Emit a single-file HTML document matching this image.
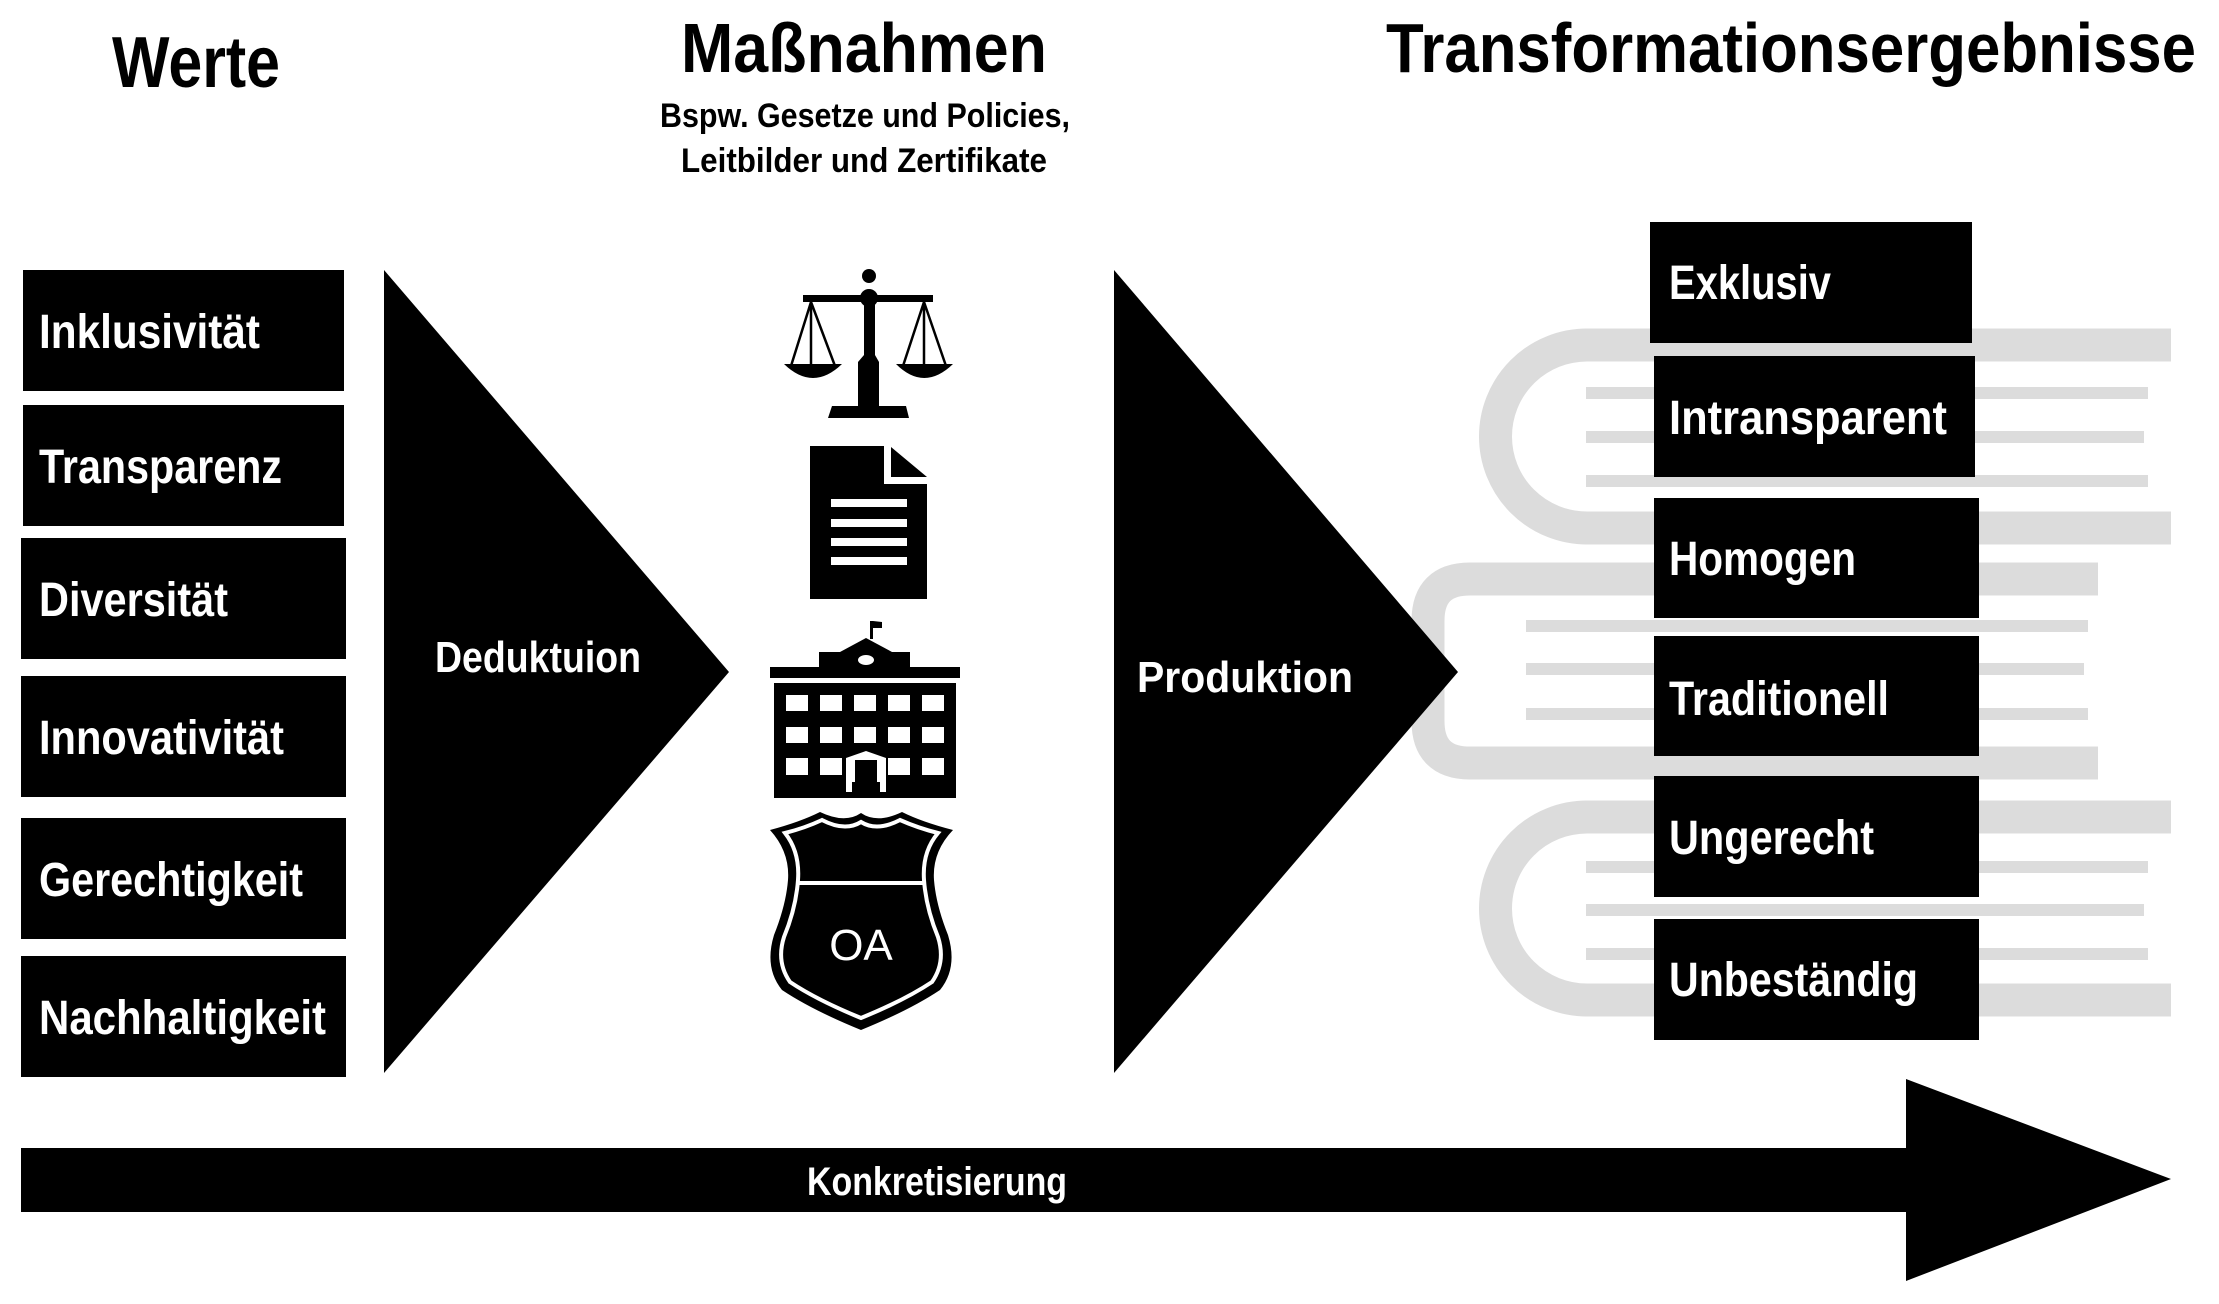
<!DOCTYPE html>
<html><head><meta charset="utf-8"><style>
html,body{margin:0;padding:0;background:#fff}
svg{display:block}
text{font-family:"Liberation Sans Narrow","Liberation Sans",sans-serif;font-weight:bold}
</style></head><body>
<svg width="2219" height="1304" viewBox="0 0 2219 1304" xmlns="http://www.w3.org/2000/svg">
<!-- titles -->
<text x="112" y="87" font-size="72" textLength="168" lengthAdjust="spacingAndGlyphs">Werte</text>
<text x="681" y="72" font-size="70" textLength="366" lengthAdjust="spacingAndGlyphs">Maßnahmen</text>
<text x="660" y="127" font-size="34" textLength="410" lengthAdjust="spacingAndGlyphs">Bspw. Gesetze und Policies,</text>
<text x="681" y="172" font-size="34" textLength="366" lengthAdjust="spacingAndGlyphs">Leitbilder und Zertifikate</text>
<text x="1386" y="72" font-size="70" textLength="810" lengthAdjust="spacingAndGlyphs">Transformationsergebnisse</text>

<!-- gray books -->
<g fill="none" stroke="#dcdcdc" stroke-width="33">
<path d="M2171,345 H1587 A91.5,91.5 0 0 0 1587,528 H2171"/>
<path d="M2098,579 H1470 Q1428,579 1428,621 V721 Q1428,763 1470,763 H2098"/>
<path d="M2171,817 H1587 A91.5,91.5 0 0 0 1587,1000 H2171"/>
</g>
<g fill="#dcdcdc">
<rect x="1586" y="387" width="562" height="12"/><rect x="1586" y="431" width="558" height="12"/><rect x="1586" y="475" width="562" height="12"/>
<rect x="1526" y="620" width="562" height="12"/><rect x="1526" y="663" width="558" height="12"/><rect x="1526" y="708" width="562" height="12"/>
<rect x="1586" y="861" width="562" height="12"/><rect x="1586" y="904" width="558" height="12"/><rect x="1586" y="948" width="562" height="12"/>
</g>

<!-- left boxes -->
<g fill="#000">
<rect x="23" y="270" width="321" height="121"/>
<rect x="23" y="405" width="321" height="121"/>
<rect x="21" y="538" width="325" height="121"/>
<rect x="21" y="676" width="325" height="121"/>
<rect x="21" y="818" width="325" height="121"/>
<rect x="21" y="956" width="325" height="121"/>
</g>
<g fill="#fff" font-size="48">
<text x="39" y="348" textLength="221" lengthAdjust="spacingAndGlyphs">Inklusivität</text>
<text x="39" y="483" textLength="243" lengthAdjust="spacingAndGlyphs">Transparenz</text>
<text x="39" y="616" textLength="189" lengthAdjust="spacingAndGlyphs">Diversität</text>
<text x="39" y="754" textLength="245" lengthAdjust="spacingAndGlyphs">Innovativität</text>
<text x="39" y="896" textLength="264" lengthAdjust="spacingAndGlyphs">Gerechtigkeit</text>
<text x="39" y="1034" textLength="287" lengthAdjust="spacingAndGlyphs">Nachhaltigkeit</text>
</g>

<!-- triangles -->
<polygon points="384,270 729,672 384,1073" fill="#000"/>
<text x="435" y="672" font-size="44" fill="#fff" textLength="206" lengthAdjust="spacingAndGlyphs">Deduktuion</text>
<polygon points="1114,270 1458,672 1114,1073" fill="#000"/>
<text x="1137" y="692" font-size="44" fill="#fff" textLength="216" lengthAdjust="spacingAndGlyphs">Produktion</text>

<!-- scale icon -->
<g fill="#000" stroke="none">
<circle cx="869" cy="276" r="7"/>
<rect x="803" y="295" width="130" height="7"/>
<circle cx="869" cy="298" r="9"/>
<rect x="864" y="300" width="11" height="62"/>
<polygon points="864,355 875,355 879,362 879,406 858,406 858,362"/>
<polygon points="832,406 906,406 909,418 828,418"/>
<path d="M784,364 H842 Q813,392 784,364Z"/>
<path d="M896,364 H953 Q924,392 896,364Z"/>
</g>
<g stroke="#000" stroke-width="2.5" fill="none">
<path d="M811,302 L791,366 M811,302 L835,366 M811,302 V366"/>
<path d="M924,302 L903,366 M924,302 L946,366 M924,302 V366"/>
</g>
<!-- document -->
<polygon points="810,446 884,446 884,484 927,484 927,599 810,599" fill="#000"/>
<polygon points="891,447 927,477 891,477" fill="#000"/>
<g fill="#fff">
<rect x="831" y="499" width="76" height="8"/><rect x="831" y="519" width="76" height="8"/>
<rect x="831" y="538" width="76" height="8"/><rect x="831" y="557" width="76" height="8"/>
</g>
<!-- building -->
<g fill="#000">
<rect x="870" y="621" width="3" height="18"/>
<polygon points="873,621 882,622 882,628 873,628"/>
<polygon points="840,652 866,638 892,652"/>
<rect x="819" y="652" width="91" height="16"/>
<rect x="770" y="667" width="190" height="11"/>
<rect x="774" y="683" width="182" height="115"/>
</g>
<ellipse cx="866" cy="660" rx="8" ry="5" fill="#fff"/>
<g fill="#fff">
<rect x="786" y="695" width="22" height="16"/><rect x="820" y="695" width="22" height="16"/><rect x="854" y="695" width="22" height="16"/><rect x="888" y="695" width="22" height="16"/><rect x="922" y="695" width="22" height="16"/>
<rect x="786" y="727" width="22" height="16"/><rect x="820" y="727" width="22" height="16"/><rect x="854" y="727" width="22" height="16"/><rect x="888" y="727" width="22" height="16"/><rect x="922" y="727" width="22" height="16"/>
<rect x="786" y="758" width="22" height="17"/><rect x="820" y="758" width="22" height="17"/><rect x="888" y="758" width="22" height="17"/><rect x="922" y="758" width="22" height="17"/>
<polygon points="846,758 866,751 886,758 886,792 846,792"/>
</g>
<g fill="#000"><rect x="855" y="760" width="22" height="22"/><rect x="852" y="782" width="28" height="16"/></g>
<!-- shield -->
<path d="M770,830 Q800,822 820,812 Q845,824 861,813 Q877,824 902,812 Q922,822 953,830 Q932,852 934,880 Q936,905 948,935 Q958,968 940,990 Q910,1010 861,1030 Q812,1010 782,990 Q764,968 774,935 Q786,905 788,880 Q790,852 770,830Z" fill="#000"/>
<path d="M785,833 Q805,828 822,820 Q845,832 861,822 Q877,832 900,820 Q918,828 938,833 Q922,852 924,880 Q926,908 938,937 Q946,962 932,982 Q905,1000 861,1018 Q817,1000 790,982 Q776,962 784,937 Q796,908 798,880 Q800,852 785,833Z" fill="none" stroke="#fff" stroke-width="4"/>
<rect x="798" y="881" width="126" height="4" fill="#fff"/>
<text x="861" y="960" font-size="44" fill="#fff" text-anchor="middle" style="font-family:'Liberation Sans',sans-serif;font-weight:normal">OA</text>

<!-- result boxes -->
<g fill="#000">
<rect x="1650" y="222" width="322" height="121"/>
<rect x="1654" y="356" width="321" height="121"/>
<rect x="1654" y="498" width="325" height="120"/>
<rect x="1654" y="636" width="325" height="120"/>
<rect x="1654" y="776" width="325" height="121"/>
<rect x="1654" y="919" width="325" height="121"/>
</g>
<g fill="#fff" font-size="48">
<text x="1669" y="299" textLength="162" lengthAdjust="spacingAndGlyphs">Exklusiv</text>
<text x="1669" y="434" textLength="278" lengthAdjust="spacingAndGlyphs">Intransparent</text>
<text x="1669" y="575" textLength="187" lengthAdjust="spacingAndGlyphs">Homogen</text>
<text x="1669" y="715" textLength="220" lengthAdjust="spacingAndGlyphs">Traditionell</text>
<text x="1669" y="854" textLength="205" lengthAdjust="spacingAndGlyphs">Ungerecht</text>
<text x="1669" y="996" textLength="249" lengthAdjust="spacingAndGlyphs">Unbeständig</text>
</g>

<!-- Konkretisierung arrow -->
<polygon points="21,1148 1906,1148 1906,1079 2171,1179 1906,1281 1906,1212 21,1212" fill="#000"/>
<text x="807" y="1195" font-size="40" fill="#fff" textLength="260" lengthAdjust="spacingAndGlyphs">Konkretisierung</text>
</svg>
</body></html>
